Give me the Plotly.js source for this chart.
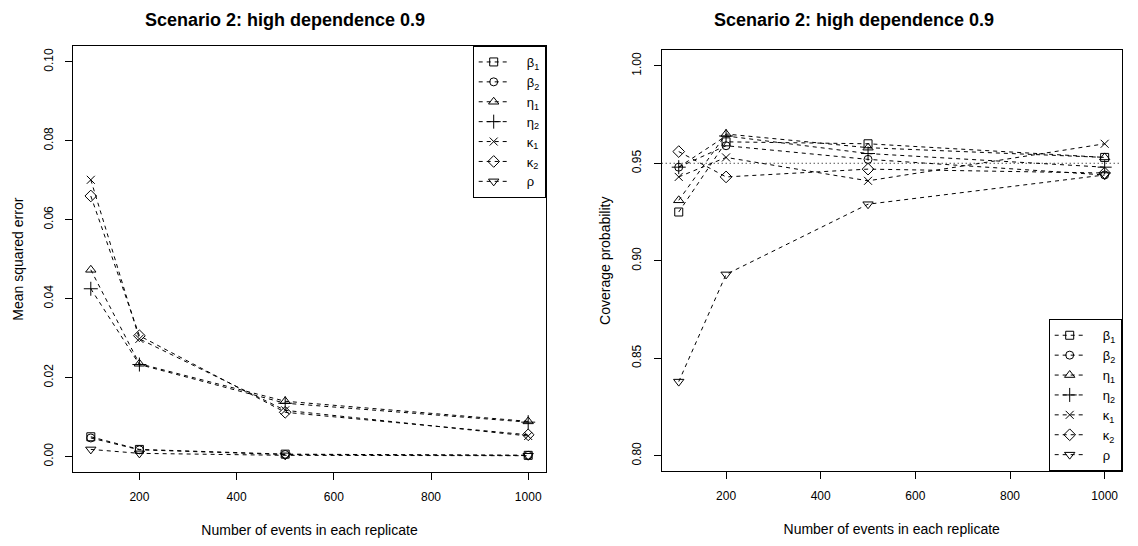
<!DOCTYPE html>
<html>
<head>
<meta charset="utf-8">
<script src="https://cdn.plot.ly/plotly-3.0.1.min.js"></script>
<style>
  html, body { margin: 0; padding: 0; background: #fff; }
  #chart { width: 1138px; height: 546px; }
</style>
</head>
<body>
<div id="chart"></div>
<script>
// Simulation results, scenario 2 (dependence 0.9)
const nEvents = [100, 200, 500, 1000];

const paramLabels = ['β<sub>1</sub>', 'β<sub>2</sub>', 'η<sub>1</sub>', 'η<sub>2</sub>',
                     'κ<sub>1</sub>', 'κ<sub>2</sub>', 'ρ'];

// Mean squared error per parameter
const mseBeta1 = [0.0050, 0.0018, 0.0006, 0.0003];
const mseBeta2 = [0.0047, 0.0017, 0.0005, 0.0003];
const mseEta1  = [0.0473, 0.0235, 0.0140, 0.0089];
const mseEta2  = [0.0425, 0.0233, 0.0135, 0.0087];
const mseKappa1 = [0.0701, 0.0298, 0.0117, 0.0052];
const mseKappa2 = [0.0660, 0.0306, 0.0112, 0.0055];
const mseRho   = [0.0018, 0.0008, 0.0003, 0.0002];

// Coverage probability of the 95% intervals
const covBeta1 = [0.925, 0.961, 0.960, 0.953];
const covBeta2 = [0.948, 0.959, 0.952, 0.944];
const covEta1  = [0.931, 0.965, 0.958, 0.953];
const covEta2  = [0.948, 0.964, 0.955, 0.948];
const covKappa1 = [0.943, 0.953, 0.941, 0.960];
const covKappa2 = [0.956, 0.943, 0.947, 0.945];
const covRho   = [0.838, 0.893, 0.929, 0.944];

const nominalLevel = 0.95;

const mseSeries = [mseBeta1, mseBeta2, mseEta1, mseEta2, mseKappa1, mseKappa2, mseRho];
const covSeries = [covBeta1, covBeta2, covEta1, covEta2, covKappa1, covKappa2, covRho];

const symbols = ['square-open', 'circle-open', 'triangle-up-open', 'cross-thin-open',
                 'x-thin-open', 'diamond-open', 'triangle-down-open'];
const symbolSizes = [8, 8, 9, 10, 8, 9, 9];

const W = 1138, H = 546;
const FONT = 'Liberation Sans, Arial, Helvetica, sans-serif';
// extra room between each legend key and its label
const LEGEND_PAD = '\u2002\u2002';

function makeTrace(values, i, xa, ya, legendId) {
  return {
    x: nEvents, y: values, name: LEGEND_PAD + paramLabels[i],
    type: 'scatter', mode: 'lines+markers',
    xaxis: xa, yaxis: ya, legend: legendId,
    line: { color: '#000', width: 1, dash: '4px,4px' },
    marker: { symbol: symbols[i], size: symbolSizes[i], color: '#000',
              line: { color: '#000', width: 1 } },
    hoverinfo: 'x+y+name'
  };
}

const traces = [];
mseSeries.forEach((v, i) => traces.push(makeTrace(v, i, 'x', 'y', 'legend')));
covSeries.forEach((v, i) => traces.push(makeTrace(v, i, 'x2', 'y2', 'legend2')));

function axisBase() {
  return {
    showline: true, mirror: true, linecolor: '#000', linewidth: 1,
    ticks: 'outside', ticklen: 7, tickwidth: 1, tickcolor: '#000',
    showgrid: false, zeroline: false,
    tickfont: { family: FONT, size: 12, color: '#000' }
  };
}

const xTicks = [200, 400, 600, 800, 1000];
const titleFont = { family: FONT, size: 14, color: '#000' };

const layout = {
  width: W, height: H,
  margin: { l: 0, r: 0, t: 0, b: 0 },
  paper_bgcolor: '#fff', plot_bgcolor: '#fff',
  font: { family: FONT, size: 12, color: '#000' },
  showlegend: true,
  xaxis: Object.assign(axisBase(), {
    domain: [73.3 / W, 545.7 / W], range: [64, 1036], tickvals: xTicks, anchor: 'y',
    ticklabelstandoff: 6,
    title: { text: 'Number of events in each replicate', font: titleFont, standoff: 22 }
  }),
  yaxis: Object.assign(axisBase(), {
    domain: [1 - 472.3 / H, 1 - 46 / H], range: [-0.004, 0.104], anchor: 'x',
    tickvals: [0, 0.02, 0.04, 0.06, 0.08, 0.10], tickformat: '.2f', tickangle: -90,
    ticklabelstandoff: 8,
    title: { text: 'Mean squared error', font: titleFont, standoff: 14 }
  }),
  xaxis2: Object.assign(axisBase(), {
    domain: [661.7 / W, 1121.7 / W], range: [64, 1036], tickvals: xTicks, anchor: 'y2',
    ticklabelstandoff: 6,
    title: { text: 'Number of events in each replicate', font: titleFont, standoff: 22 }
  }),
  yaxis2: Object.assign(axisBase(), {
    domain: [1 - 471.3 / H, 1 - 50.2 / H], range: [0.792, 1.008], anchor: 'x2',
    tickvals: [0.80, 0.85, 0.90, 0.95, 1.00], tickformat: '.2f', tickangle: -90,
    ticklabelstandoff: 8,
    title: { text: 'Coverage probability', font: titleFont, standoff: 16 }
  }),
  legend: {
    x: 545.7 / W, xanchor: 'right', y: 1 - 46 / H, yanchor: 'top',
    bgcolor: '#fff', bordercolor: '#000', borderwidth: 1,
    font: { family: FONT, size: 13, color: '#000' }, tracegroupgap: 0
  },
  legend2: {
    x: 1121.7 / W, xanchor: 'right', y: 1 - 471.3 / H, yanchor: 'bottom',
    bgcolor: '#fff', bordercolor: '#000', borderwidth: 1,
    font: { family: FONT, size: 13, color: '#000' }, tracegroupgap: 0
  },
  shapes: [{
    type: 'line', xref: 'x2 domain', x0: 0, x1: 1, yref: 'y2',
    y0: nominalLevel, y1: nominalLevel,
    line: { color: '#000', width: 1, dash: '1px,3px' }, layer: 'below'
  }],
  annotations: [
    { text: '<b>Scenario 2: high dependence 0.9</b>', xref: 'paper', yref: 'paper',
      x: 284.5 / W, y: 1 - 20 / H, showarrow: false, xanchor: 'center', yanchor: 'middle',
      font: { family: FONT, size: 18, color: '#000' } },
    { text: '<b>Scenario 2: high dependence 0.9</b>', xref: 'paper', yref: 'paper',
      x: 853.5 / W, y: 1 - 20 / H, showarrow: false, xanchor: 'center', yanchor: 'middle',
      font: { family: FONT, size: 18, color: '#000' } }
  ]
};

Plotly.newPlot('chart', traces, layout, { staticPlot: true, displayModeBar: false });
</script>
</body>
</html>
